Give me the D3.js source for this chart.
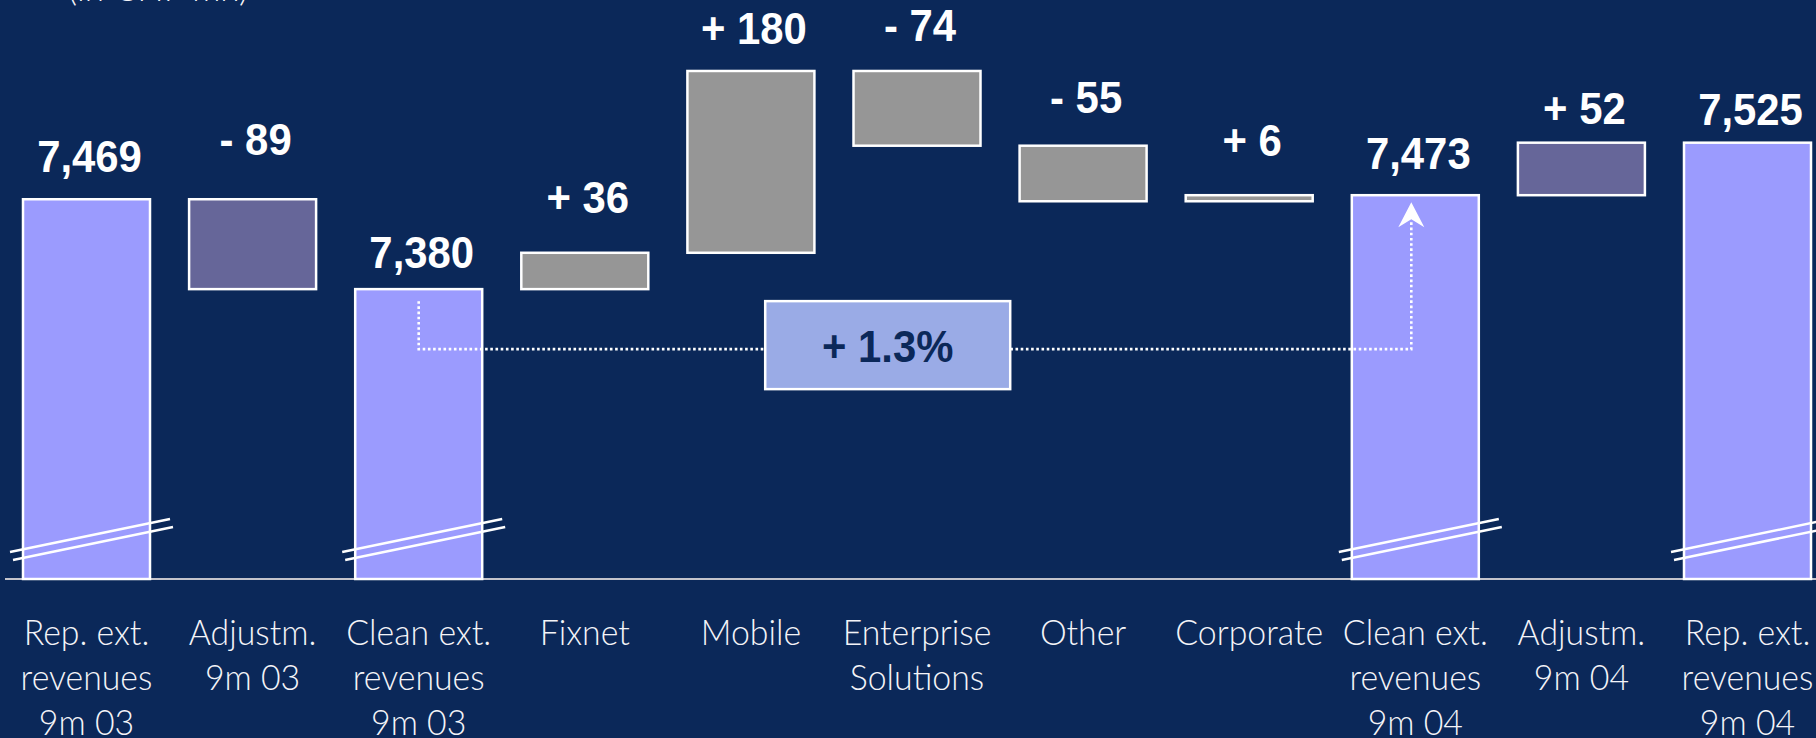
<!DOCTYPE html>
<html><head><meta charset="utf-8">
<script src="https://cdn.jsdelivr.net/npm/d3@7"></script>
<style>
html,body{margin:0;padding:0;background:#0b2859;overflow:hidden;}
svg{display:block;}
</style></head><body>
<svg id="chart" width="1816" height="738"></svg>
<script>
// ---- data ----
const categories = ["Rep. ext.|revenues|9m 03","Adjustm.|9m 03","Clean ext.|revenues|9m 03","Fixnet","Mobile","Enterprise|Solutions","Other","Corporate","Clean ext.|revenues|9m 04","Adjustm.|9m 04","Rep. ext.|revenues|9m 04"];
const values = [7469, -89, 7380, 36, 180, -74, -55, 6, 7473, 52, 7525];
const barTypes = ["total","adjust","total","segment","segment","segment","segment","segment","total","adjust","total"];
const unitLabel = "(in CHF mn)";
const growthLabel = "+ 1.3%";
const axisDomain = [7093, 7600];

// ---- layout / style ----
const W = 1816, H = 738;
const baseY = 579;
const labelGaps = [27,44,21,40,27,30,33,39,26,19,18];
const colors = {bg:"#0b2859", total:"#9b9bfe", adjust:"#666699", segment:"#969696", box:"#9aabe6", axis:"#c4c4cc", text:"#ffffff"};

const svg = d3.select("#chart");
svg.append("rect").attr("width",W).attr("height",H).attr("fill",colors.bg);

const x = d3.scaleBand().domain(categories).range([23, 1811]).paddingInner(0.2354).paddingOuter(0);
const y = d3.scaleLinear().domain(axisDomain).range([baseY, baseY - (axisDomain[1]-axisDomain[0])*1.01]);

// compute waterfall
let running = 0;
const bars = categories.map((c,i)=>{
  const v = values[i];
  let lo, hi;
  if (barTypes[i] === "total") { lo = axisDomain[0]; hi = v; running = v; }
  else { const s = running, e = running + v; lo = Math.min(s,e); hi = Math.max(s,e); running = e; }
  const label = barTypes[i] === "total" ? d3.format(",")(v) : (v >= 0 ? "+ " : "- ") + Math.abs(v);
  return {cat:c, v, lo, hi, type:barTypes[i], label, gap:labelGaps[i]};
});

// baseline
svg.append("line").attr("x1",5).attr("x2",W).attr("y1",baseY).attr("y2",baseY)
  .attr("stroke",colors.axis).attr("stroke-width",2);

// bars
svg.append("g").selectAll("rect").data(bars).join("rect")
  .attr("x", d=>x(d.cat)).attr("width", x.bandwidth())
  .attr("y", d=>y(d.hi)).attr("height", d=>Math.max(1, y(d.lo)-y(d.hi)))
  .attr("fill", d=>colors[d.type]).attr("stroke","#ffffff").attr("stroke-width",2.5);

// break marks on total bars
const brk = svg.append("g").attr("stroke","#ffffff").attr("stroke-width",2.5);
bars.filter(d=>d.type==="total").forEach(d=>{
  const x0 = x(d.cat);
  brk.append("line").attr("x1",x0-13).attr("y1",baseY-27).attr("x2",x0+147).attr("y2",baseY-60);
  brk.append("line").attr("x1",x0-10).attr("y1",baseY-19).attr("x2",x0+150).attr("y2",baseY-52);
});

// value labels
svg.append("g").selectAll("text").data(bars).join("text")
  .attr("transform", d=>`translate(${x(d.cat)+x.bandwidth()/2+3},${y(d.hi)-d.gap}) scale(0.93,1)`)
  .attr("text-anchor","middle")
  .attr("font-family","'Liberation Sans', Arial, sans-serif").attr("font-weight","bold")
  .attr("font-size",45).attr("fill",colors.text)
  .text(d=>d.label);

// category axis
const axis = d3.axisBottom(x).tickSize(0).tickFormat("");
const ax = svg.append("g").attr("transform",`translate(0,${baseY})`).call(axis);
ax.select(".domain").remove();
ax.selectAll(".tick").each(function(c){
  const t = d3.select(this).append("text")
    .attr("text-anchor","middle").attr("transform","scale(0.94,1)")
    .attr("font-family","Lato, 'Open Sans', sans-serif").attr("font-weight",300)
    .attr("font-size",36).attr("fill","#f4f4f8");
  c.split("|").forEach((line,i)=>{
    t.append("tspan").attr("x",0).attr("y",66+i*45).text(line);
  });
});

// connector (growth)
const b3 = bars[2], b9 = bars[8];
const cx3 = x(b3.cat)+x.bandwidth()/2, cx9 = x(b9.cat)+x.bandwidth()/2 - 4;
const yc = y(b3.hi) + 60;
const tipY = y(b9.hi) + 7;
svg.append("path")
  .attr("d", `M${cx3},${y(b3.hi)+12} L${cx3},${yc} L${cx9},${yc} L${cx9},${tipY+20}`)
  .attr("fill","none").attr("stroke","#ffffff").attr("stroke-width",2.6)
  .attr("stroke-dasharray","2.6 2.6");
svg.append("path")
  .attr("d", `M${cx9},${tipY} L${cx9+13},${tipY+25} L${cx9},${tipY+17} L${cx9-13},${tipY+25} Z`)
  .attr("fill","#ffffff");

// growth box
const boxW = 245, boxH = 88;
const bx = cx3 + 0.4725*(cx9-cx3);
const by = yc - 4;
svg.append("rect").attr("x",bx-boxW/2).attr("y",by-boxH/2).attr("width",boxW).attr("height",boxH)
  .attr("fill",colors.box).attr("stroke","#ffffff").attr("stroke-width",2.5);
svg.append("text").attr("transform",`translate(${bx},${by+17}) scale(0.93,1)`)
  .attr("text-anchor","middle")
  .attr("font-family","'Liberation Sans', Arial, sans-serif").attr("font-weight","bold")
  .attr("font-size",45).attr("fill",colors.bg).text(growthLabel);

// unit label (cut at top)
svg.append("text").attr("x",68).attr("y",1)
  .attr("font-family","Lato, 'Open Sans', sans-serif").attr("font-weight",300)
  .attr("font-size",35).attr("fill","#f4f4f8").text(unitLabel);
</script>
</body></html>
